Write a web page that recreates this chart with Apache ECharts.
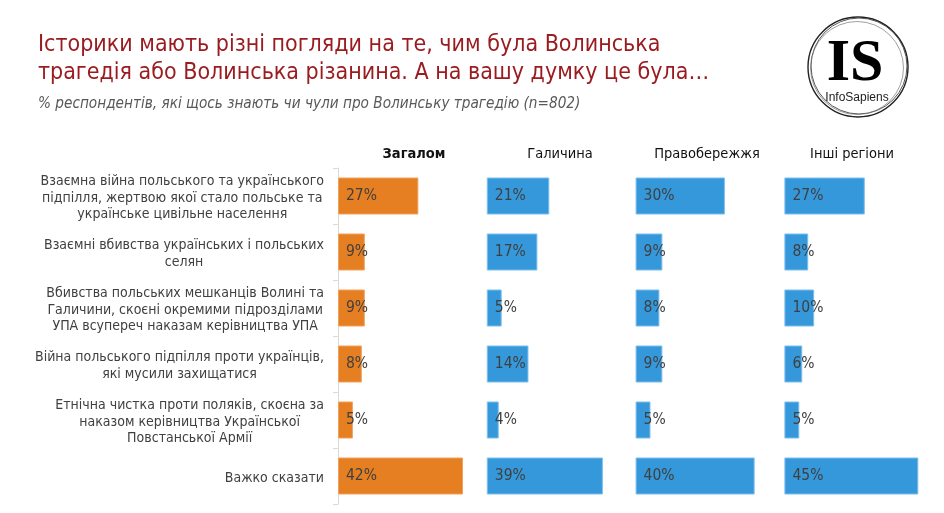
<!DOCTYPE html>
<html>
<head>
<meta charset="utf-8">
<script src="https://cdn.jsdelivr.net/npm/echarts@6/dist/echarts.min.js"></script>
<style>
html,body{margin:0;padding:0;background:#fff;}
#chart{width:944px;height:513px;}
</style>
</head>
<body>
<div id="chart"></div>
<script>
const titleText = "Історики мають різні погляди на те, чим була Волинська\nтрагедія або Волинська різанина. А на вашу думку це була…";
const subtitleText = "% респондентів, які щось знають чи чули про Волинську трагедію (n=802)";
const categories = [
  "Взаємна війна польського та українського\nпідпілля, жертвою якої стало польське та\nукраїнське цивільне населення",
  "Взаємні вбивства українських і польських\nселян",
  "Вбивства польських мешканців Волині та\nГаличини, скоєні окремими підрозділами\nУПА всупереч наказам керівництва УПА",
  "Війна польського підпілля проти українців,\nякі мусили захищатися",
  "Етнічна чистка проти поляків, скоєна за\nнаказом керівництва Української\nПовстанської Армії",
  "Важко сказати"
];
const groups = ["Загалом", "Галичина", "Правобережжя", "Інші регіони"];
const overall = [27, 9, 9, 8, 5, 42];
const galychyna = [21, 17, 5, 14, 4, 39];
const pravoberezhzhia = [30, 9, 8, 9, 5, 40];
const otherRegions = [27, 8, 10, 6, 5, 45];
const seriesValues = [overall, galychyna, pravoberezhzhia, otherRegions];

const FONT = '"DejaVu Sans Condensed", "DejaVu Sans", sans-serif';
const colors = ['#E67E22', '#3498DB', '#3498DB', '#3498DB'];
const borders = ['#F0A15C', '#7DBDEB', '#7DBDEB', '#7DBDEB'];
const panelLeft = 338, panelW = 148.8, gridTop = 168, gridH = 336;
const headerX = [409, 555, 702, 847];

const grids = [], xAxes = [], yAxes = [], series = [], titles = [];
titles.push({
  text: titleText, left: 33, top: 26,
  textStyle: {color: '#9B1C20', fontSize: 23, fontWeight: 'normal', fontFamily: FONT, lineHeight: 28}
});
titles.push({
  text: subtitleText, left: 33, top: 90,
  textStyle: {color: '#595959', fontSize: 15.2, fontStyle: 'italic', fontWeight: 'normal', fontFamily: FONT, lineHeight: 18}
});
groups.forEach((g, i) => {
  titles.push({
    text: g, left: headerX[i], top: 140, textAlign: 'center',
    textStyle: {color: '#111', fontSize: 14.5, fontWeight: i === 0 ? 'bold' : 'normal', fontFamily: FONT, lineHeight: 18}
  });
  grids.push({left: panelLeft + panelW * i, top: gridTop, width: panelW, height: gridH, containLabel: false});
  xAxes.push({type: 'value', gridIndex: i, min: 0, max: 50, show: false, splitLine: {show: false}});
  yAxes.push({
    type: 'category', gridIndex: i, inverse: true, data: categories,
    show: i === 0,
    axisLine: {show: true, lineStyle: {color: '#D9D9D9', width: 1}},
    axisTick: {show: true, length: 5, lineStyle: {color: '#D9D9D9'}},
    axisLabel: {
      show: i === 0, margin: 14, align: 'right', padding: [4, 0, 0, 0],
      formatter: v => v.split('\n').map(s => '{c|' + s + '}').join('\n'),
      rich: {c: {align: 'center', fontSize: 14, lineHeight: 16.5, color: '#404040', fontFamily: FONT}}
    }
  });
  series.push({
    type: 'bar', xAxisIndex: i, yAxisIndex: i, data: seriesValues[i], barWidth: 37,
    itemStyle: {color: colors[i], borderColor: borders[i], borderWidth: 1},
    label: {show: true, position: 'insideLeft', distance: 8, formatter: '{c}%', color: '#404040', fontSize: 15.5, fontFamily: FONT},
    silent: true, animation: false
  });
});

const chart = echarts.init(document.getElementById('chart'));
chart.setOption({
  backgroundColor: '#fff',
  animation: false,
  title: titles,
  grid: grids, xAxis: xAxes, yAxis: yAxes, series: series,
  graphic: [
    {type: 'circle', shape: {cx: 858, cy: 67, r: 50}, style: {fill: '#fff', stroke: '#222', lineWidth: 1.4}, z: 10},
    {type: 'circle', shape: {cx: 859, cy: 66, r: 48}, style: {fill: 'none', stroke: '#444', lineWidth: 0.9}, z: 10},
    {type: 'circle', shape: {cx: 857, cy: 68, r: 46.5}, style: {fill: 'none', stroke: '#777', lineWidth: 0.7}, z: 10},
    {type: 'text', x: 855, y: 64, style: {text: 'IS', fill: '#000', font: 'bold 60px "Liberation Serif", serif', align: 'center', verticalAlign: 'middle'}, z: 11},
    {type: 'text', x: 857, y: 98, style: {text: 'InfoSapiens', fill: '#222', font: '12px "Liberation Sans", sans-serif', align: 'center', verticalAlign: 'middle'}, z: 11}
  ]
});
</script>
</body>
</html>
